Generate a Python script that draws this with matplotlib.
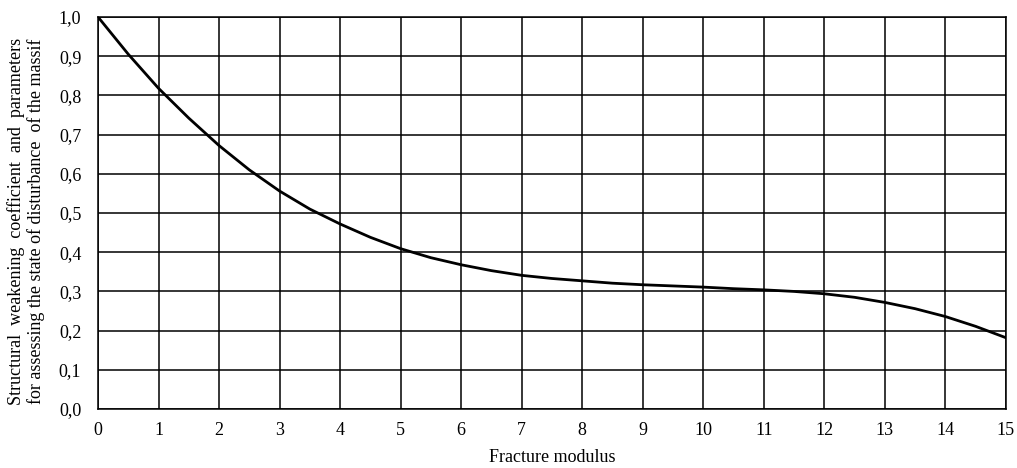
import matplotlib
matplotlib.use("Agg")
import matplotlib.pyplot as plt
from matplotlib.ticker import FuncFormatter

x_vals = [0, 0.5, 1, 1.5, 2, 2.5, 3, 3.5, 4, 4.5, 5, 5.5, 6, 6.5, 7, 7.5,
          8, 8.5, 9, 9.5, 10, 10.5, 11, 11.5, 12, 12.5, 13, 13.5, 14, 14.5, 15]
y_vals = [1.0, 0.905, 0.818, 0.742, 0.672, 0.61, 0.556, 0.51, 0.472, 0.438,
          0.409, 0.386, 0.368, 0.353, 0.341, 0.333, 0.327, 0.321, 0.317, 0.314,
          0.311, 0.307, 0.304, 0.3, 0.294, 0.285, 0.272, 0.256, 0.236, 0.211, 0.182]
x_ticks = list(range(0, 16))
y_ticks = [i / 10 for i in range(0, 11)]

plt.rcParams['font.family'] = ['Liberation Serif', 'DejaVu Serif']

fig = plt.figure(figsize=(10.17, 4.68), dpi=100)
ax = fig.add_axes([0.0964, 0.126, 0.8926, 0.8377])

ax.plot(x_vals, y_vals, color='black', linewidth=2.0, zorder=3)
ax.set_xlim(0, 15)
ax.set_ylim(0, 1.0)
ax.set_xticks(x_ticks)
ax.set_yticks(y_ticks)
ax.yaxis.set_major_formatter(FuncFormatter(lambda v, p: f"{v:.1f}".replace('.', ',')))
ax.grid(True, color='black', linewidth=1.1)
ax.tick_params(length=0, labelsize=13)
ax.tick_params(axis='x', pad=9)
ax.tick_params(axis='y', pad=12)
for s in ax.spines.values():
    s.set_linewidth(1.1)
    s.set_color('black')

fig.text(552 / 1017, 1 - 457 / 468, "Fracture modulus", fontsize=13,
         ha='center', va='center')
fig.text(26 / 1017, 1 - 221 / 468,
         "Structural  weakening  coefficient  and  parameters\nfor assessing the state of disturbance  of the massif",
         fontsize=13, rotation=90, ha='center', va='center', linespacing=1.15,
         multialignment='center')

fig.savefig("out.png", dpi=100)
